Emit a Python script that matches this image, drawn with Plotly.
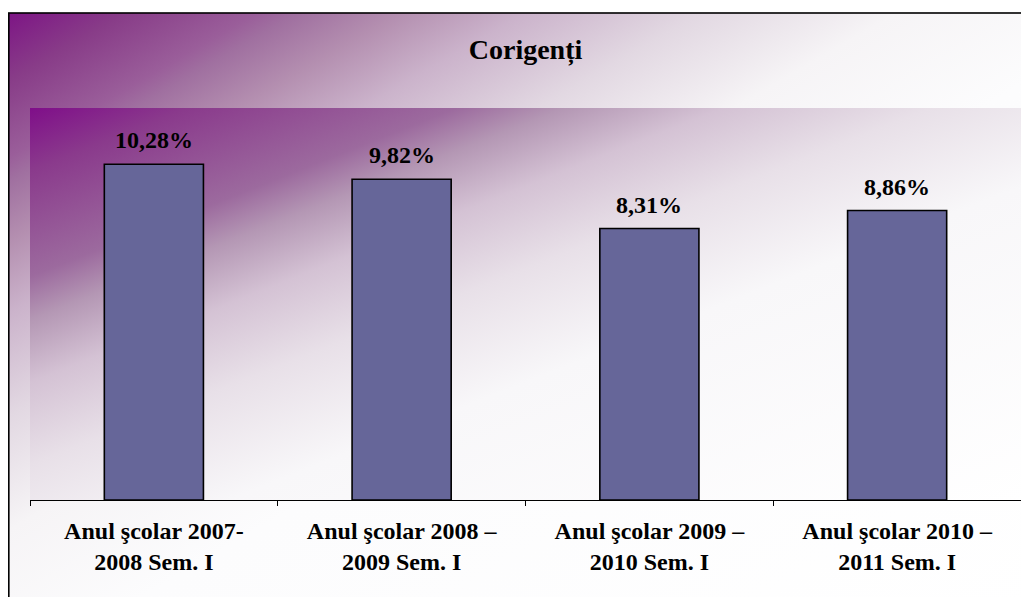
import base64
import plotly.graph_objects as go

# ---- data ----
categories = [
    "Anul şcolar 2007-<br>2008 Sem. I",
    "Anul şcolar 2008 –<br>2009 Sem. I",
    "Anul şcolar 2009 –<br>2010 Sem. I",
    "Anul şcolar 2010 –<br>2011 Sem. I",
]
values = [10.28, 9.82, 8.31, 8.86]
title_text = "Corigenți"

# ---- layout geometry / style ----
# the page adds an 8px body margin, so the figure is 8px smaller than the window
W, H = 1021, 589
ml, mr, mt, mb = 22, 7.5, 100, 97
pw, ph = W - ml - mr, H - mt - mb
FONT = "Liberation Serif, Times New Roman, serif"

stops_outer = [(0, "#7d1585"), (0.056, "#883c88"), (0.12, "#9a5e9a"), (0.14, "#a070a0"),
               (0.19, "#b48fb0"), (0.25, "#cbb3cb"), (0.335, "#e2d8e2"), (0.43, "#f6f4f6"),
               (0.55, "#fcfcfd"), (1, "#ffffff")]
stops_plot = [(0, "#7f0e89"), (0.08, "#8a3a8c"), (0.215, "#9c6a9e"), (0.27, "#b497b4"),
              (0.35, "#d4c2d4"), (0.455, "#e8e0e8"), (0.6, "#f8f7f9"), (1, "#ffffff")]


def grad(gid, stops):
    s = "".join(f'<stop offset="{o}" stop-color="{c}"/>' for o, c in stops)
    return f'<linearGradient id="{gid}" x1="0" y1="0" x2="1" y2="1">{s}</linearGradient>'


svg = (
    f'<svg xmlns="http://www.w3.org/2000/svg" width="{W}" height="{H}" viewBox="0 0 {W} {H}">'
    f'<defs>{grad("g1", stops_outer)}{grad("g2", stops_plot)}</defs>'
    f'<rect x="0" y="0" width="{W}" height="{H}" fill="#ffffff"/>'
    f'<rect x="0.8" y="5" width="{W + 12}" height="{H + 12}" fill="url(#g1)" stroke="#000" stroke-width="1.6"/>'
    f'<rect x="{ml}" y="{mt}" width="{pw}" height="{ph}" fill="url(#g2)"/>'
    f'</svg>'
)
src = "data:image/svg+xml;base64," + base64.b64encode(svg.encode("utf-8")).decode("ascii")

fig = go.Figure()
fig.add_trace(go.Bar(
    x=categories, y=values,
    marker=dict(color="#666699", line=dict(color="#000000", width=1.6)),
    width=0.4,
    hoverinfo="skip",
))

for c, v in zip(categories, values):
    fig.add_annotation(
        x=c, y=v, xref="x", yref="y",
        text=f"{v:.2f}".replace(".", ",") + "%",
        showarrow=False, yanchor="bottom", yshift=9,
        font=dict(family=FONT, size=24, color="#000000", weight="bold"),
    )

fig.add_layout_image(dict(
    source=src, xref="paper", yref="paper",
    x=-ml / pw, y=1 + mt / ph, sizex=W / pw, sizey=H / ph,
    xanchor="left", yanchor="top", sizing="stretch", layer="below",
))

fig.update_layout(
    width=W, height=H,
    margin=dict(l=ml, r=mr, t=mt, b=mb, pad=0),
    paper_bgcolor="#ffffff",
    plot_bgcolor="rgba(0,0,0,0)",
    separators=", ",
    showlegend=False,
    title=dict(
        text=f"<b>{title_text}</b>", x=0.5, xref="paper",
        y=1 - 41 / H, yref="container", yanchor="middle", xanchor="center",
        font=dict(family=FONT, size=28, color="#000000"),
    ),
    xaxis=dict(
        showline=True, linecolor="#000000", linewidth=1,
        ticks="outside", tickson="boundaries", ticklen=5, tickcolor="#000000",
        ticklabelstandoff=9,
        tickfont=dict(family=FONT, size=24, color="#000000", weight="bold"),
        showgrid=False, zeroline=False, fixedrange=True,
    ),
    yaxis=dict(range=[0, 12], visible=False, fixedrange=True),
)

fig.write_html("out.html")
